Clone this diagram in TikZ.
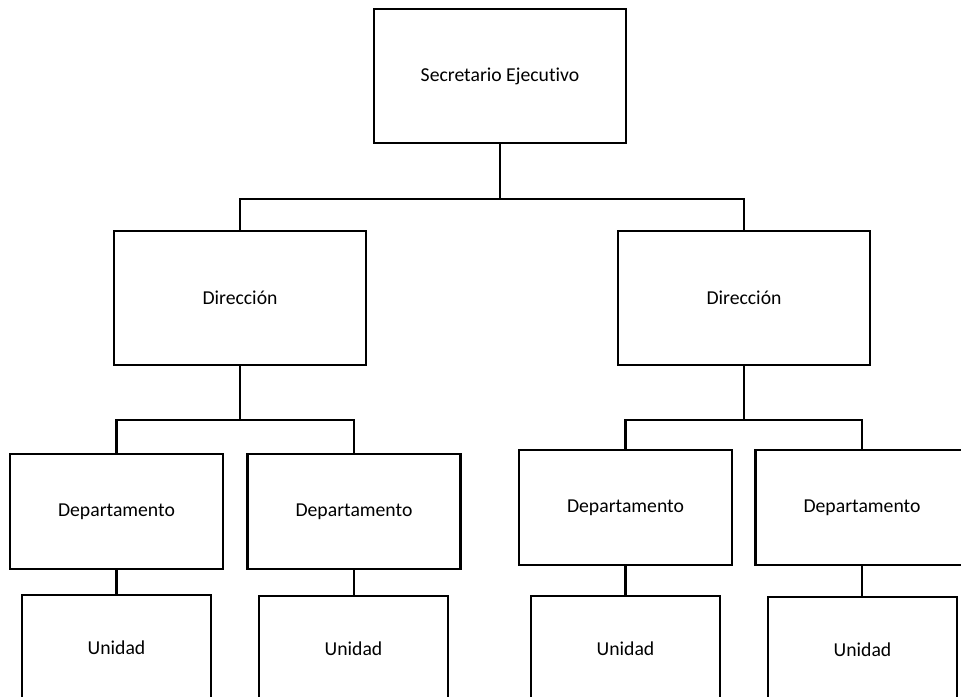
\documentclass[tikz,border=0pt]{standalone}
\usepackage{fontspec}
\setmainfont[Ligatures=NoCommon]{Carlito}
\begin{document}
\begin{tikzpicture}[x=1pt,y=-1pt,
  orgbox/.style={draw=black, line width=2.4pt, fill=white, inner sep=0pt,
    font=\fontsize{19.7}{23}\selectfont},
  big/.style={orgbox, minimum width=252pt, minimum height=134pt},
  dept/.style={orgbox, minimum width=213pt, minimum height=115pt},
  unit/.style={orgbox, minimum width=189pt, minimum height=106pt},
  link/.style={draw=black, line width=2.4pt}]
\useasboundingbox (0,0) rectangle (961,696);
\clip (0,0) rectangle (961,696);
% nodes
\node[big] (sec) at (500,76) {Secretario Ejecutivo};
\node[big] (dirL) at (240,298) {Dirección};
\node[big] (dirR) at (744,298) {Dirección};
\node[dept] (depL1) at (116.5,511.5) {Departamento};
\node[dept] (depL2) at (354,511.5) {Departamento};
\node[dept] (depR1) at (625.5,507.5) {Departamento};
\node[dept] (depR2) at (862,507.5) {Departamento};
\node[unit] (unL1) at (116.5,648) {Unidad};
\node[unit] (unL2) at (353.5,649) {Unidad};
\node[unit] (unR1) at (625.5,649) {Unidad};
\node[unit] (unR2) at (862.5,650) {Unidad};
% junctions
\coordinate (j0) at (500,199);
\coordinate (j1) at (240,420);
\coordinate (j2) at (744,420);
% connectors
\draw[link] (sec.south) -- (j0);
\draw[link] (dirL.north) |- (j0) -| (dirR.north);
\draw[link] (dirL.south) -- (j1);
\draw[link] (depL1.north) |- (j1) -| (depL2.north);
\draw[link] (dirR.south) -- (j2);
\draw[link] (depR1.north) |- (j2) -| (depR2.north);
\draw[link] (depL1.south) -- (depL1.south |- unL1.north);
\draw[link] (depL2.south) -- (depL2.south |- unL2.north);
\draw[link] (depR1.south) -- (depR1.south |- unR1.north);
\draw[link] (depR2.south) -- (depR2.south |- unR2.north);
\end{tikzpicture}
\end{document}
